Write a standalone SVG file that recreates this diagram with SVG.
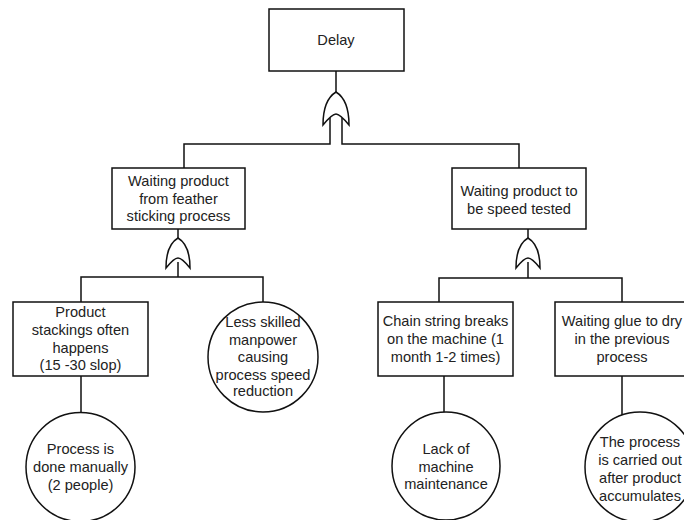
<svg xmlns="http://www.w3.org/2000/svg" width="684" height="520" viewBox="0 0 684 520">
<style>
.b{fill:#fff;stroke:#111;stroke-width:1.5}
.l{fill:none;stroke:#111;stroke-width:1.5}
text{font-family:"Liberation Sans",Arial,sans-serif;font-size:14.6px;fill:#222;text-anchor:middle}
</style>
<rect width="684" height="520" fill="#fff"/>
<g id="connectors">
<path class="l" d="M336 71V92M330 118V144H184V168M342 118V144H519V168"/>
<path class="l" d="M178 229V238M178 262V277H81V302M178 277H263V302M81 376V412"/>
<path class="l" d="M528 229V238M528 262V278H439V302M528 278H622V302M444 376V412M622 376V415"/>
</g>
<g id="gate-top"><path class="b" d="M323 125Q323 100 336 92Q349 100 349 125Q340 114 336 114Q332 114 323 125Z"/></g>
<g id="gate-left"><path class="b" d="M166 268Q166 245 178 238Q190 245 190 268Q182 258 178 258Q174 258 166 268Z"/></g>
<g id="gate-right"><path class="b" d="M516 268Q516 245 528 238Q540 245 540 268Q532 258 528 258Q524 258 516 268Z"/></g>
<g id="delay"><rect class="b" x="269" y="9" width="135" height="62"/><text x="336" y="45">Delay</text></g>
<g id="waiting-feather"><rect class="b" x="112" y="168" width="133" height="61"/><text x="178.5" y="186">Waiting product</text><text x="178.5" y="203.5">from feather</text><text x="178.5" y="221">sticking process</text></g>
<g id="waiting-speed"><rect class="b" x="452" y="168" width="134" height="61"/><text x="519" y="196">Waiting product to</text><text x="519" y="213.5">be speed tested</text></g>
<g id="stackings"><rect class="b" x="13" y="302" width="135" height="74"/><text x="80.5" y="317">Product</text><text x="80.5" y="335">stackings often</text><text x="80.5" y="352.5">happens</text><text x="80.5" y="370">(15 -30 slop)</text></g>
<g id="less-skilled"><circle class="b" cx="263" cy="357" r="55"/><text x="263" y="327">Less skilled</text><text x="263" y="344.5">manpower</text><text x="263" y="362">causing</text><text x="263" y="379.5">process speed</text><text x="263" y="396">reduction</text></g>
<g id="chain"><rect class="b" x="378" y="302" width="135" height="74"/><text x="445.5" y="326">Chain string breaks</text><text x="445.5" y="343.5">on the machine (1</text><text x="445.5" y="361.5">month 1-2 times)</text></g>
<g id="glue"><rect class="b" x="555" y="302" width="135" height="74"/><text x="622" y="326">Waiting glue to dry</text><text x="622" y="343.5">in the previous</text><text x="622" y="361.5">process</text></g>
<g id="manual"><circle class="b" cx="80.5" cy="467" r="54.5"/><text x="80.5" y="454">Process is</text><text x="80.5" y="472">done manually</text><text x="80.5" y="490">(2 people)</text></g>
<g id="maintenance"><circle class="b" cx="446" cy="466" r="54"/><text x="446" y="454">Lack of</text><text x="446" y="471.5">machine</text><text x="446" y="489">maintenance</text></g>
<g id="accumulates"><circle class="b" cx="640" cy="467" r="55"/><text x="640" y="447">The process</text><text x="640" y="465">is carried out</text><text x="640" y="483">after product</text><text x="640" y="500.5">accumulates</text></g>
</svg>
